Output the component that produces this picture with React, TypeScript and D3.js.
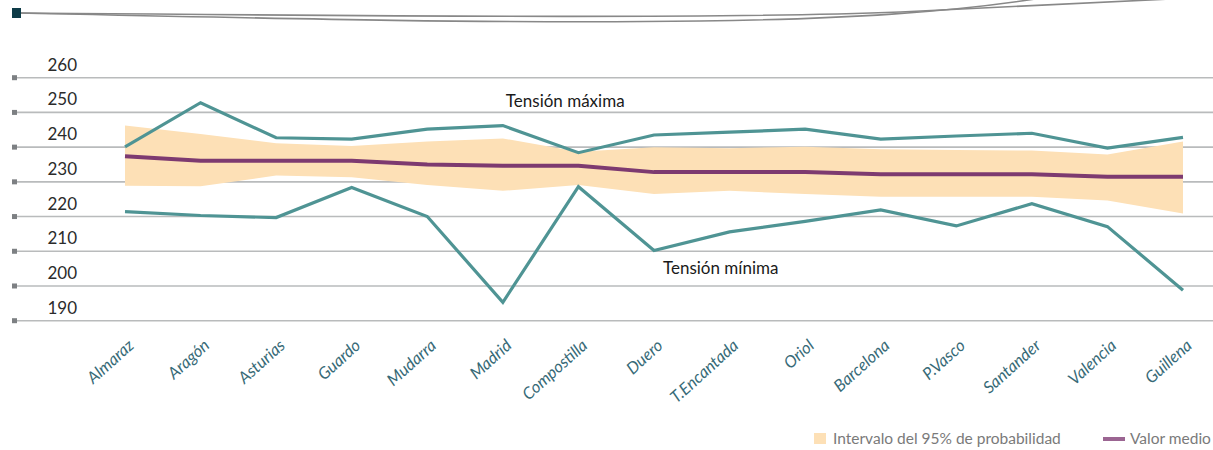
import React, { useEffect, useRef } from "react";
import * as d3 from "d3";

const WIDTH = 1213;
const HEIGHT = 450;

const CATEGORIES = [
  "Almaraz",
  "Aragón",
  "Asturias",
  "Guardo",
  "Mudarra",
  "Madrid",
  "Compostilla",
  "Duero",
  "T.Encantada",
  "Oriol",
  "Barcelona",
  "P.Vasco",
  "Santander",
  "Valencia",
  "Guillena",
];

// kV values
const TENSION_MAX = [240.1, 252.8, 242.7, 242.3, 245.2, 246.2, 238.4, 243.5, 244.3, 245.2, 242.3, 243.2, 244.0, 239.7, 242.8];
const TENSION_MIN = [221.4, 220.3, 219.7, 228.4, 220.0, 195.3, 228.6, 210.2, 215.6, 218.6, 221.9, 217.3, 223.7, 217.1, 198.8];
const VALOR_MEDIO = [237.4, 236.1, 236.1, 236.1, 235.0, 234.6, 234.6, 232.8, 232.8, 232.8, 232.2, 232.2, 232.2, 231.5, 231.5];
const BAND_UPPER = [246.2, 243.8, 241.1, 240.3, 241.6, 242.5, 238.7, 240.0, 239.7, 240.1, 239.4, 239.2, 239.0, 237.9, 241.6];
const BAND_LOWER = [228.9, 228.7, 231.8, 231.3, 229.1, 227.4, 229.1, 226.5, 227.4, 226.5, 225.7, 225.7, 225.7, 224.6, 220.9];

const Y_TICKS = [190, 200, 210, 220, 230, 240, 250, 260];

const LEGEND = ["Intervalo del 95% de probabilidad", "Valor medio"];

const TEAL = "#4f9494";
const PURPLE = "#7d3a70";
const BAND = "#fde0b6";
const FONT = "Lato, 'Open Sans', sans-serif";

const App = () => {
  const svgRef = useRef<SVGSVGElement>(null);

  useEffect(() => {
    const svg = d3.select(svgRef.current);
    svg.selectAll("*").remove();

    const x = d3.scalePoint().domain(CATEGORIES).range([125, 1183]);
    const y = d3.scaleLinear().domain([190, 260]).range([320.7, 77.7]);

    // header decoration
    const deco = svg.append("g");
    deco
      .append("path")
      .attr("d", "M20,13 C300,15 700,20 900,12 C1000,8 1100,3 1170,-1")
      .attr("fill", "none")
      .attr("stroke", "#888")
      .attr("stroke-width", 1.6);
    deco
      .append("path")
      .attr("d", "M20,13 C250,18 500,24 700,21 C850,19 950,12 1035,-1")
      .attr("fill", "none")
      .attr("stroke", "#888")
      .attr("stroke-width", 1.6);
    deco
      .append("rect")
      .attr("x", 12)
      .attr("y", 8)
      .attr("width", 9)
      .attr("height", 10)
      .attr("fill", "#0e3c48");

    // grid + y axis
    const grid = svg.append("g");
    Y_TICKS.forEach((t) => {
      grid
        .append("line")
        .attr("x1", 16)
        .attr("x2", WIDTH)
        .attr("y1", y(t))
        .attr("y2", y(t))
        .attr("stroke", "#b9bbbc")
        .attr("stroke-width", 1.6);
      grid
        .append("rect")
        .attr("x", 12)
        .attr("y", y(t) - 2.5)
        .attr("width", 5)
        .attr("height", 5)
        .attr("fill", "#7d8083");
      grid
        .append("text")
        .attr("x", 77)
        .attr("y", y(t) - 7)
        .attr("text-anchor", "end")
        .attr("font-family", FONT)
        .attr("font-size", 17)
        .attr("fill", "#2b2b2b")
        .text(t);
    });

    const rows = CATEGORIES.map((c, i) => ({
      c,
      max: TENSION_MAX[i],
      min: TENSION_MIN[i],
      mean: VALOR_MEDIO[i],
      hi: BAND_UPPER[i],
      lo: BAND_LOWER[i],
    }));

    const area = d3
      .area<any>()
      .x((d) => x(d.c)!)
      .y0((d) => y(d.lo))
      .y1((d) => y(d.hi));
    svg.append("path").datum(rows).attr("d", area).attr("fill", BAND);

    const lineOf = (key: string) =>
      d3
        .line<any>()
        .x((d) => x(d.c)!)
        .y((d) => y(d[key]));

    svg
      .append("path")
      .datum(rows)
      .attr("d", lineOf("mean"))
      .attr("fill", "none")
      .attr("stroke", PURPLE)
      .attr("stroke-width", 4);

    ["max", "min"].forEach((k) => {
      svg
        .append("path")
        .datum(rows)
        .attr("d", lineOf(k))
        .attr("fill", "none")
        .attr("stroke", TEAL)
        .attr("stroke-width", 3.2)
        .attr("stroke-linejoin", "miter");
    });

    // series annotations
    const notes = [
      { text: "Tensión máxima", c: "Madrid", v: 251.6, dx: 3 },
      { text: "Tensión mínima", c: "Duero", v: 203.4, dx: 9 },
    ];
    notes.forEach((n) => {
      svg
        .append("text")
        .attr("x", x(n.c)! + n.dx)
        .attr("y", y(n.v))
        .attr("font-family", FONT)
        .attr("font-size", 17)
        .attr("fill", "#1a1a1a")
        .text(n.text);
    });

    // x labels
    svg
      .append("g")
      .selectAll("text")
      .data(CATEGORIES)
      .join("text")
      .attr("transform", (d) => `translate(${x(d)! + 10},347) rotate(-42)`)
      .attr("text-anchor", "end")
      .attr("font-family", FONT)
      .attr("font-style", "italic")
      .attr("font-size", 16.5)
      .attr("fill", "#376a77")
      .text((d) => d);

    // legend
    const lg = svg.append("g").attr("font-family", FONT).attr("font-size", 15.5).attr("fill", "#7a7a7a");
    lg.append("rect").attr("x", 814).attr("y", 433).attr("width", 12).attr("height", 11).attr("fill", BAND);
    lg.append("text").attr("x", 833).attr("y", 444).text(LEGEND[0]);
    lg.append("rect").attr("x", 1103).attr("y", 437).attr("width", 22).attr("height", 4).attr("fill", "#9b6592");
    lg.append("text").attr("x", 1130).attr("y", 444).text(LEGEND[1]);
  }, []);

  return (
    <svg
      ref={svgRef}
      width={WIDTH}
      height={HEIGHT}
      style={{ position: "absolute", left: 0, top: 0, background: "#fff" }}
    />
  );
};

export default App;
